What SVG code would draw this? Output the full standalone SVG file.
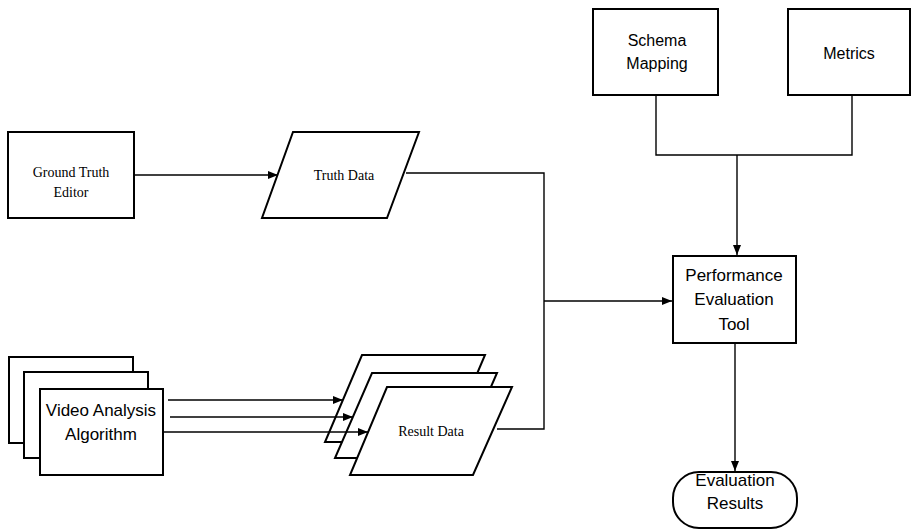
<svg xmlns="http://www.w3.org/2000/svg" width="911" height="531" viewBox="0 0 911 531">
<defs>
<style>
.box{fill:#fff;stroke:#000;stroke-width:2}
.con{fill:none;stroke:#000;stroke-width:1.4}
.sans{font-family:"Liberation Sans",Arial,sans-serif;font-size:17px;fill:#000;text-anchor:middle}
.serif{font-family:"Liberation Serif","Times New Roman",serif;font-size:14px;fill:#000;text-anchor:middle}
</style>
<marker id="arr" viewBox="0 0 10 8" refX="10" refY="4" markerWidth="10" markerHeight="8" markerUnits="userSpaceOnUse" orient="auto">
<path d="M0,0 L10,4 L0,8 z" fill="#000"/>
</marker>
</defs>
<rect width="911" height="531" fill="#fff"/>

<g id="ground-truth-editor">
<rect class="box" x="8" y="132" width="126" height="86"/>
<text class="serif" x="71" y="177">Ground Truth</text>
<text class="serif" x="71" y="197">Editor</text>
</g>

<g id="truth-data">
<polygon class="box" points="293,132 419,132 387,218 262,218"/>
<text class="serif" x="344" y="180">Truth Data</text>
</g>

<g id="video-analysis-algorithm">
<rect class="box" x="9" y="357" width="124" height="86"/>
<rect class="box" x="24" y="372" width="124" height="86"/>
<rect class="box" x="40" y="389" width="123" height="86"/>
<text class="sans" x="101" y="416">Video Analysis</text>
<text class="sans" x="101" y="440">Algorithm</text>
</g>

<g id="result-data">
<polygon class="box" points="362,355 485,355 448,442 325,442"/>
<polygon class="box" points="372,373 497,373 460,458 335,458"/>
<polygon class="box" points="387,387 512,387 473,475 350,475"/>
<text class="serif" x="431" y="436">Result Data</text>
</g>

<g id="schema-mapping">
<rect class="box" x="593" y="9" width="125" height="86"/>
<text class="sans" x="657" y="46" style="font-size:16px">Schema</text>
<text class="sans" x="657" y="69" style="font-size:16px">Mapping</text>
</g>

<g id="metrics">
<rect class="box" x="788" y="9" width="122" height="86"/>
<text class="sans" x="849" y="59" style="font-size:16px">Metrics</text>
</g>

<g id="performance-evaluation-tool">
<rect class="box" x="673" y="256" width="123" height="87"/>
<text class="sans" x="734" y="281">Performance</text>
<text class="sans" x="734" y="305">Evaluation</text>
<text class="sans" x="734" y="330">Tool</text>
</g>

<g id="evaluation-results">
<rect class="box" x="673" y="472" width="124" height="56" rx="26" ry="26"/>
<text class="sans" x="735" y="486">Evaluation</text>
<text class="sans" x="735" y="509">Results</text>
</g>

<g id="connectors">
<line class="con" x1="134" y1="175" x2="278" y2="175" marker-end="url(#arr)"/>
<polyline class="con" points="406,173 544,173 544,429 497,429"/>
<line class="con" x1="544" y1="301" x2="672" y2="301" marker-end="url(#arr)"/>
<line class="con" x1="168" y1="400" x2="343" y2="400" marker-end="url(#arr)"/>
<line class="con" x1="170" y1="417" x2="353" y2="417" marker-end="url(#arr)"/>
<line class="con" x1="163" y1="432" x2="368" y2="432" marker-end="url(#arr)"/>
<polyline class="con" points="656,95 656,155 852,155 852,95"/>
<line class="con" x1="737" y1="155" x2="737" y2="255" marker-end="url(#arr)"/>
<line class="con" x1="735" y1="343" x2="735" y2="471" marker-end="url(#arr)"/>
</g>
</svg>
